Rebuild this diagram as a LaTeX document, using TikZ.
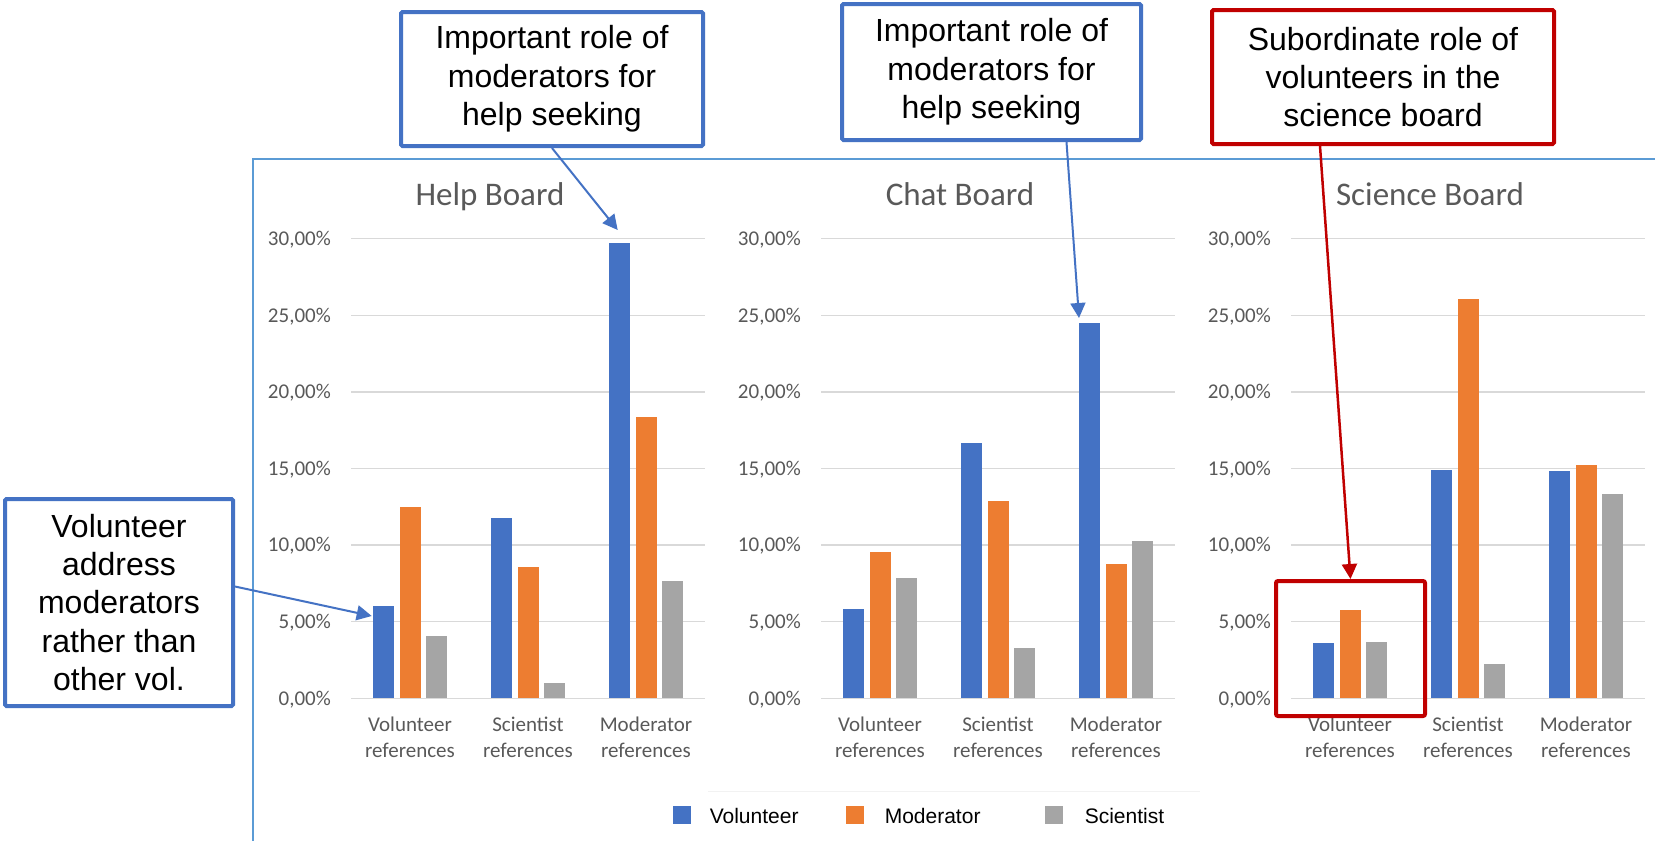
\documentclass[tikz,border=0pt]{standalone}
\usepackage{fontspec}
\setmainfont{Liberation Sans}
\newfontfamily\chartfont{Carlito}
\usetikzlibrary{arrows.meta}

\definecolor{volblue}{HTML}{4472C4}
\definecolor{modorange}{HTML}{ED7D31}
\definecolor{scigray}{HTML}{A5A5A5}
\definecolor{gridgray}{HTML}{D9D9D9}
\definecolor{axisgray}{HTML}{595959}
\definecolor{frameblue}{HTML}{5B9BD5}
\definecolor{notered}{HTML}{C00000}

\tikzset{
  note/.style={draw=volblue, line width=4pt, fill=white, align=center, inner sep=0pt,
    rounded corners=1.5pt, font=\fontsize{32}{38.4}\selectfont},
  rednote/.style={note, draw=notered},
  pointer/.style={-{Triangle[length=15pt,width=15pt]}, line width=2pt, volblue},
  redpointer/.style={pointer, notered, line width=2.5pt},
  ticklabel/.style={font=\chartfont\fontsize{21}{25}\selectfont, text=axisgray, anchor=base east, inner sep=0pt},
  catlabel/.style={font=\chartfont\fontsize{21}{25.6}\selectfont, text=axisgray, align=center, anchor=north, inner sep=0pt},
  charttitle/.style={font=\chartfont\fontsize{33}{40}\selectfont, text=axisgray, anchor=base, inner sep=0pt},
  legendbox/.style={minimum size=18pt, inner sep=0pt},
  legendtext/.style={font=\fontsize{21}{25}\selectfont, anchor=west, inner sep=0pt}
}

% #1 left end of the grid, #2 name, #3 title, #4 group/volunteer/moderator/scientist values
\newcommand{\boardchart}[4]{
  \node[charttitle] (#2-title) at ({#1+139},205) {#3};
  \foreach \p in {0,5,...,30}{
    \draw[gridgray, line width=1.5pt] (#1,{698.3-15.32*\p}) -- ++(354,0);
    \node[ticklabel] (#2-tick-\p) at ({#1-20},{705-15.32*\p}) {\p,00\%};
  }
  \foreach \g/\a/\b/\c in {#4}{
    \fill[volblue] ({#1+59+118*\g-37},698.3) rectangle ++(21,{-15.32*\a});
    \fill[modorange] ({#1+59+118*\g-10.5},698.3) rectangle ++(21,{-15.32*\b});
    \fill[scigray] ({#1+59+118*\g+16},698.3) rectangle ++(21,{-15.32*\c});
  }
  \foreach \g/\cat in {0/Volunteer, 1/Scientist, 2/Moderator}
    \node[catlabel] (#2-cat-\g) at ({#1+59+118*\g},717) {\cat\\references};
}

\begin{document}
\begin{tikzpicture}[x=1pt, y=-1pt]
\useasboundingbox[fill=white] (0,0) rectangle (1655,841);

\draw[frameblue, line width=2pt] (1655,159) -- (253,159) -- (253,841);
\draw[gray!10, line width=1pt] (708,791) -- (1200,791);

\boardchart{351}{help}{Help Board}{0/6.04/12.5/4.09, 1/11.75/8.59/1.02, 2/29.7/18.35/7.68}
\boardchart{821}{chat}{Chat Board}{0/5.83/9.55/7.87, 1/16.65/12.88/3.30, 2/24.5/8.77/10.27}
\boardchart{1291}{science}{Science Board}{0/3.59/5.76/3.67, 1/14.9/26.05/2.24, 2/14.86/15.21/13.33}

\node[legendbox, fill=volblue] (leg-vol) at (682,815) {};
\node[legendtext] (leg-vol-text) at (709.6,815.5) {Volunteer};
\node[legendbox, fill=modorange] (leg-mod) at (855,815) {};
\node[legendtext] (leg-mod-text) at (884.6,815.5) {Moderator};
\node[legendbox, fill=scigray] (leg-sci) at (1054,815) {};
\node[legendtext] (leg-sci-text) at (1084.6,815.5) {Scientist};

\node[note, minimum width=302pt, minimum height=134pt] (helpnote) at (552,79)
  {Important role of\\moderators for\\help seeking};
\node[note, minimum width=299pt, minimum height=136pt] (chatnote) at (991.5,72)
  {Important role of\\moderators for\\help seeking};
\node[rednote, minimum width=342pt, minimum height=134pt] (sciencenote) at (1383,77)
  {Subordinate role of\\volunteers in the\\science board};
\node[note, minimum width=228pt, minimum height=207pt] (volnote) at (119,602.5)
  {Volunteer\\address\\moderators\\rather than\\other vol.};
\node[draw=notered, line width=4pt, rounded corners=2pt, minimum width=149pt,
  minimum height=135pt, inner sep=0pt] (scifocus) at (1350.5,648.5) {};

\coordinate (helptip) at (617.7,230);
\coordinate (chattip) at (1079,318);
\coordinate (voltip) at (371.7,616);
\draw[pointer] (helpnote.south) -- (helptip);
\draw[pointer] ([xshift=75pt]chatnote.south) -- (chattip);
\draw[pointer] ([yshift=16pt]volnote.east) -- (voltip);
\draw[redpointer] ([xshift=-63pt]sciencenote.south) -- (scifocus.north);

\end{tikzpicture}
\end{document}
